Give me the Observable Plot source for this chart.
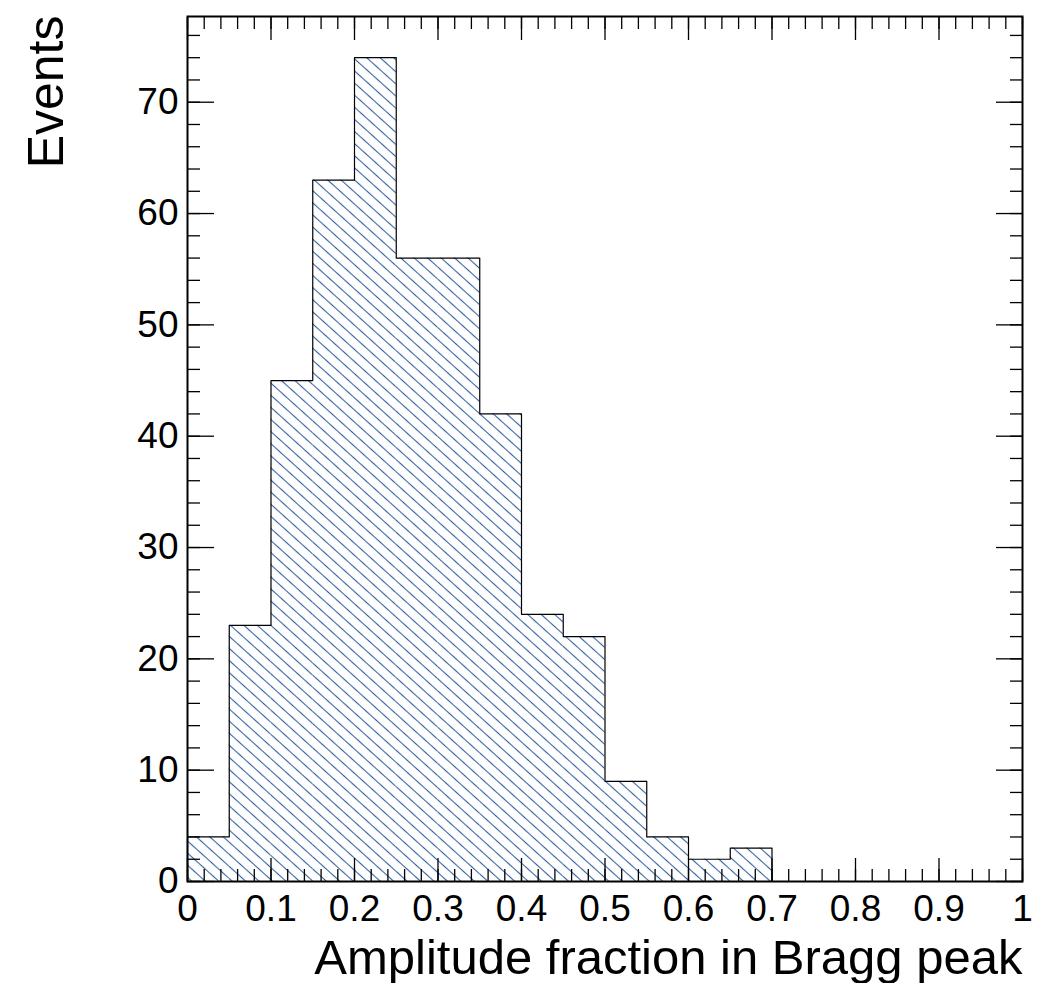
<!DOCTYPE html>
<html>
<head>
<meta charset="utf-8">
<script src="https://cdn.jsdelivr.net/npm/d3@7"></script>
<script src="https://cdn.jsdelivr.net/npm/@observablehq/plot@0.6"></script>
<style>
  html, body { margin: 0; padding: 0; background: #ffffff; }
  #chart svg { display: block; }
</style>
</head>
<body>
<div id="chart"></div>
<script>
// ---- data ----
const binEdges = [0, 0.05, 0.1, 0.15, 0.2, 0.25, 0.3, 0.35, 0.4, 0.45, 0.5,
                  0.55, 0.6, 0.65, 0.7, 0.75, 0.8, 0.85, 0.9, 0.95, 1.0];
const counts = [4, 23, 45, 63, 74, 56, 56, 42, 24, 22, 9, 4, 2, 3, 0, 0, 0, 0, 0, 0];
const xTickValues = [0, 0.1, 0.2, 0.3, 0.4, 0.5, 0.6, 0.7, 0.8, 0.9, 1];
const xTickLabels = ["0", "0.1", "0.2", "0.3", "0.4", "0.5", "0.6", "0.7", "0.8", "0.9", "1"];
const yTickValues = [0, 10, 20, 30, 40, 50, 60, 70];
const yTickLabels = ["0", "10", "20", "30", "40", "50", "60", "70"];
const xTitle = "Amplitude fraction in Bragg peak";
const yTitle = "Events";
const xDomain = [0, 1];
const yDomain = [0, 77.7];

// ---- tables built from the arrays ----
const bins = counts.map((c, i) => ({x1: binEdges[i], x2: binEdges[i + 1], y: c}));
const outline = [{x: binEdges[0], y: 0}].concat(
  binEdges.map((e, i) => ({x: e, y: i < counts.length ? counts[i] : 0}))
);
const xMinor = d3.range(0, 51).map(i => i / 50);
const yMinor = d3.range(0, 39).map(i => i * 2);
const xLab = new Map(xTickValues.map((v, i) => [v, xTickLabels[i]]));
const yLab = new Map(yTickValues.map((v, i) => [v, yTickLabels[i]]));

const FONT = '"Liberation Sans", Arial, Helvetica, sans-serif';
const HATCH = "#3563a3";

function hatchDefs() {
  const ns = "http://www.w3.org/2000/svg";
  const defs = document.createElementNS(ns, "defs");
  const p = document.createElementNS(ns, "pattern");
  p.setAttribute("id", "hatch");
  p.setAttribute("patternUnits", "userSpaceOnUse");
  p.setAttribute("width", "9");
  p.setAttribute("height", "9");
  p.setAttribute("patternTransform", "rotate(-48)");
  const bg = document.createElementNS(ns, "rect");
  bg.setAttribute("width", "9"); bg.setAttribute("height", "9"); bg.setAttribute("fill", "white");
  const l = document.createElementNS(ns, "line");
  l.setAttribute("x1", "4.5"); l.setAttribute("y1", "-1");
  l.setAttribute("x2", "4.5"); l.setAttribute("y2", "10");
  l.setAttribute("stroke", HATCH); l.setAttribute("stroke-width", "1.1");
  p.appendChild(bg); p.appendChild(l);
  defs.appendChild(p);
  return defs;
}

const tickOnly = {label: null, fill: "none", strokeWidth: 1.3};

const chart = Plot.plot({
  width: 1041,
  height: 983,
  marginTop: 16,
  marginRight: 19,
  marginBottom: 102,
  marginLeft: 187,
  style: {fontFamily: FONT, fontSize: "37px", background: "#ffffff", color: "#000000"},
  x: {domain: xDomain},
  y: {domain: yDomain},
  marks: [
    hatchDefs,
    Plot.rectY(bins, {x1: "x1", x2: "x2", y: "y", fill: "url(#hatch)", insetLeft: 0, insetRight: 0}),
    Plot.line(outline, {x: "x", y: "y", curve: "step-after", stroke: "#000000", strokeWidth: 1.2}),
    // bottom axis
    Plot.axisX({anchor: "bottom", ticks: xTickValues, tickSize: -23, tickPadding: 36,
                tickFormat: d => xLab.get(d), fontSize: 37, label: null, strokeWidth: 1.3}),
    Plot.axisX({anchor: "bottom", ticks: xMinor, tickSize: -12, ...tickOnly}),
    // top axis
    Plot.axisX({anchor: "top", ticks: xTickValues, tickSize: -23, ...tickOnly}),
    Plot.axisX({anchor: "top", ticks: xMinor, tickSize: -12, ...tickOnly}),
    // left axis
    Plot.axisY({anchor: "left", ticks: yTickValues, tickSize: -27, tickPadding: 36,
                tickFormat: d => yLab.get(d), fontSize: 37, label: null, strokeWidth: 1.3}),
    Plot.axisY({anchor: "left", ticks: yMinor, tickSize: -13, ...tickOnly}),
    // right axis
    Plot.axisY({anchor: "right", ticks: yTickValues, tickSize: -27, ...tickOnly}),
    Plot.axisY({anchor: "right", ticks: yMinor, tickSize: -13, ...tickOnly}),
    // titles
    Plot.text([xTitle], {frameAnchor: "bottom-right", text: d => d, textAnchor: "end",
                         lineAnchor: "bottom", dy: 92, fontSize: 49, fill: "#000000"}),
    Plot.text([yTitle], {frameAnchor: "top-left", text: d => d, rotate: -90, textAnchor: "end",
                         lineAnchor: "bottom", dx: -125, dy: -1, fontSize: 50, fill: "#000000"}),
    Plot.frame({stroke: "#000000", strokeWidth: 2})
  ]
});

document.getElementById("chart").appendChild(chart);
</script>
</body>
</html>
